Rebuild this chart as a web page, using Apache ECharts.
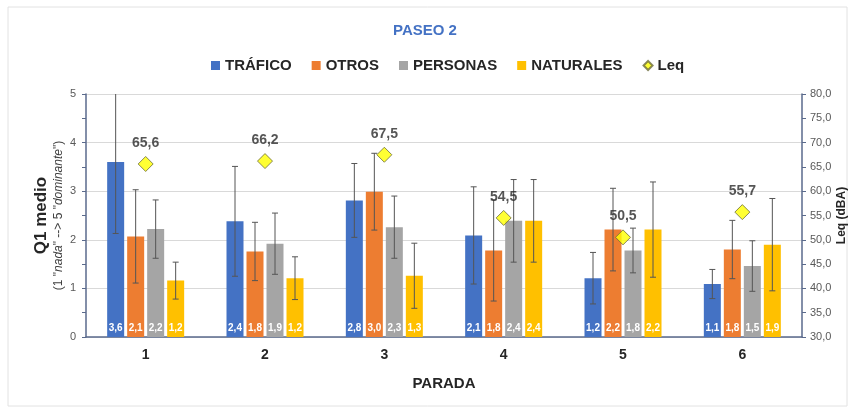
<!DOCTYPE html>
<html>
<head>
<meta charset="utf-8">
<script src="https://cdn.jsdelivr.net/npm/echarts@6/dist/echarts.min.js"></script>
<style>html,body{margin:0;padding:0;background:#fff}#c{width:850px;height:409px}</style>
</head>
<body>
<div id="c"></div>
<script>
// ---- data ----
const categories = ['1', '2', '3', '4', '5', '6'];
const seriesNames = ['TRÁFICO', 'OTROS', 'PERSONAS', 'NATURALES'];
const trafico = [3.6, 2.38, 2.81, 2.09, 1.21, 1.09];
const otros = [2.07, 1.76, 2.99, 1.78, 2.21, 1.8];
const personas = [2.22, 1.92, 2.26, 2.39, 1.78, 1.46];
const naturales = [1.16, 1.21, 1.26, 2.39, 2.21, 1.9];
const traficoErr = [1.47, 1.13, 0.76, 1.0, 0.53, 0.3];
const otrosErr = [0.96, 0.6, 0.79, 1.04, 0.85, 0.6];
const personasErr = [0.6, 0.63, 0.64, 0.85, 0.46, 0.52];
const naturalesErr = [0.38, 0.44, 0.67, 0.85, 0.98, 0.95];
const leq = [65.6, 66.2, 67.5, 54.5, 50.5, 55.7];
const leftTicks = [0, 1, 2, 3, 4, 5];
const rightTicks = [30, 35, 40, 45, 50, 55, 60, 65, 70, 75, 80];

const colors = ['#4472C4', '#ED7D31', '#A5A5A5', '#FFC000'];
const values = [trafico, otros, personas, naturales];
const errors = [traficoErr, otrosErr, personasErr, naturalesErr];
const BAR_W = 17, BAR_GAP = 3;
const comma = v => v.toFixed(1).replace('.', ',');
const font = '"Liberation Sans Narrow", "Liberation Sans", sans-serif';
const axisColor = '#5a6a8c';

const chart = echarts.init(document.getElementById('c'), null, {renderer: 'canvas'});

const barSeries = values.map((arr, k) => ({
  name: seriesNames[k],
  type: 'bar',
  data: arr,
  barWidth: BAR_W,
  barGap: (BAR_GAP / BAR_W * 100) + '%',
  barCategoryGap: '35%',
  itemStyle: {color: colors[k]},
  label: {
    show: true, position: 'insideBottom', distance: 4,
    color: '#fff', fontSize: 10, fontWeight: 'bold', fontFamily: font,
    formatter: p => comma(p.value)
  },
  z: 2
}));

const errSeries = values.map((arr, k) => ({
  name: 'err' + k,
  type: 'custom',
  clip: true,
  z: 3,
  silent: true,
  data: arr.map((v, i) => [i, v, errors[k][i]]),
  encode: {x: 0, y: 1},
  renderItem: function (params, api) {
    const idx = api.value(0), v = api.value(1), e = api.value(2);
    const off = (k - 1.5) * (BAR_W + BAR_GAP);
    const x = api.coord([idx, 0])[0] + off;
    const yt = api.coord([idx, v + e])[1];
    const yb = api.coord([idx, v - e])[1];
    const style = {stroke: '#555', lineWidth: 1};
    const cw = 3;
    return {
      type: 'group',
      children: [
        {type: 'line', shape: {x1: x, y1: yt, x2: x, y2: yb}, style},
        {type: 'line', shape: {x1: x - cw, y1: yt, x2: x + cw, y2: yt}, style},
        {type: 'line', shape: {x1: x - cw, y1: yb, x2: x + cw, y2: yb}, style}
      ]
    };
  }
}));

const option = {
  animation: false,
  textStyle: {fontFamily: font},
  graphic: [{
    type: 'rect', shape: {x: 8, y: 7, width: 839, height: 399},
    style: {fill: 'none', stroke: '#e2e2e2', lineWidth: 1}, silent: true
  }],
  title: {
    text: 'PASEO 2', left: 'center', top: 18,
    textStyle: {color: '#4472C4', fontSize: 15, fontWeight: 'bold', fontFamily: font}
  },
  legend: {
    top: 53, left: 206, itemGap: 20, itemWidth: 9, itemHeight: 9,
    textStyle: {fontSize: 15, fontWeight: 'bold', color: '#262626', fontFamily: font},
    data: seriesNames.map(n => ({name: n, icon: 'rect'})).concat([{name: 'Leq', icon: 'diamond'}])
  },
  grid: {left: 86, right: 48, top: 94, bottom: 72, containLabel: false, outerBoundsMode: 'none'},
  xAxis: {
    type: 'category', data: categories,
    name: 'PARADA', nameLocation: 'middle', nameGap: 39,
    nameTextStyle: {fontSize: 15, fontWeight: 'bold', color: '#262626', fontFamily: font},
    axisLine: {lineStyle: {color: axisColor, width: 1.5}},
    axisTick: {show: false},
    axisLabel: {fontSize: 14, fontWeight: 'bold', color: '#262626', margin: 11, fontFamily: font}
  },
  yAxis: [{
    type: 'value', min: leftTicks[0], max: leftTicks[leftTicks.length - 1], interval: 1,
    position: 'left',
    name: '{a|Q1 medio}\n{b|(1 "}{i|nada}{b|" --> 5 "}{i|dominante}{b|")}',
    nameLocation: 'middle', nameRotate: 90, nameGap: 19, nameMoveOverlap: false,
    nameTextStyle: {
      rich: {
        a: {fontSize: 17, fontWeight: 'bold', color: '#262626', fontFamily: font, lineHeight: 20},
        b: {fontSize: 12, color: '#404040', fontFamily: font, lineHeight: 16},
        i: {fontSize: 12, color: '#404040', fontStyle: 'italic', fontFamily: font, lineHeight: 16}
      }
    },
    axisLine: {show: true, lineStyle: {color: axisColor, width: 1.5}},
    axisTick: {show: false},
    axisLabel: {fontSize: 11, color: '#595959', margin: 10, fontFamily: font},
    splitLine: {show: true, lineStyle: {color: '#d9d9d9'}}
  }, {
    type: 'value', min: rightTicks[0], max: rightTicks[rightTicks.length - 1], interval: 5,
    position: 'right',
    name: 'Leq (dBA)', nameLocation: 'middle', nameRotate: 90, nameGap: 34, nameMoveOverlap: false,
    nameTextStyle: {fontSize: 12, fontWeight: 'bold', color: '#262626', fontFamily: font},
    axisLine: {show: true, lineStyle: {color: axisColor, width: 1.5}},
    axisTick: {show: true, length: 4, lineStyle: {color: axisColor}},
    axisLabel: {fontSize: 11, color: '#595959', margin: 8, fontFamily: font, formatter: v => comma(v)},
    splitLine: {show: false}
  }, {
    // tick-only axis for the half-unit ticks on the left
    type: 'value', min: leftTicks[0], max: leftTicks[leftTicks.length - 1], interval: 0.5,
    position: 'left', offset: 0,
    axisLine: {show: false},
    axisTick: {show: true, length: 4, lineStyle: {color: axisColor, width: 1}},
    axisLabel: {show: false},
    splitLine: {show: false}
  }],
  series: barSeries.concat(errSeries).concat([{
    name: 'Leq', type: 'scatter', yAxisIndex: 1, data: leq,
    symbol: 'diamond', symbolSize: 15, z: 5,
    itemStyle: {color: '#FFFF00', borderColor: '#6b6b3a', borderWidth: 1},
    label: {
      show: true, position: 'top', distance: 6,
      fontSize: 14, fontWeight: 'bold', color: '#2a2a2a', fontFamily: font,
      formatter: p => comma(p.value)
    }
  }])
};
chart.setOption(option);
</script>
</body>
</html>
